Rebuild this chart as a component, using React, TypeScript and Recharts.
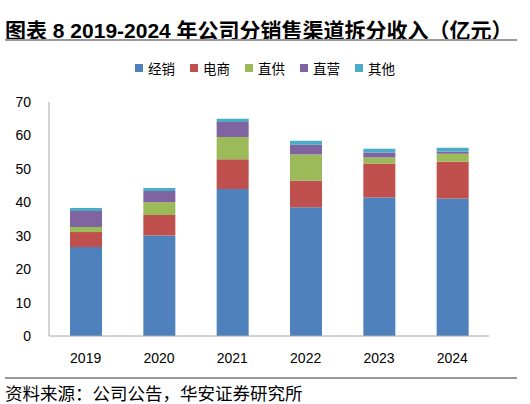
import { BarChart, Bar, XAxis, YAxis, Legend } from 'recharts'

const YEARS = ['2019', '2020', '2021', '2022', '2023', '2024']
const DISTRIBUTION = [26.6, 30.1, 44.0, 38.5, 41.4, 41.1]
const ECOMMERCE = [4.5, 6.1, 8.9, 8.0, 10.2, 11.0]
const DIRECT_SUPPLY = [1.5, 3.8, 6.6, 7.8, 1.8, 2.4]
const DIRECT_STORES = [4.8, 3.4, 4.5, 2.9, 1.5, 0.7]
const OTHERS = [0.9, 0.9, 1.0, 1.2, 1.1, 1.1]
const Y_TICKS = [0, 10, 20, 30, 40, 50, 60, 70]

const SERIES = [
  { key: 'dist', name: '经销', color: '#4F81BD', values: DISTRIBUTION },
  { key: 'ecom', name: '电商', color: '#C0504D', values: ECOMMERCE },
  { key: 'supply', name: '直供', color: '#9BBB59', values: DIRECT_SUPPLY },
  { key: 'stores', name: '直营', color: '#8064A2', values: DIRECT_STORES },
  { key: 'other', name: '其他', color: '#4BACC6', values: OTHERS },
]

const data = YEARS.map((year, i) => {
  const row: Record<string, string | number> = { year }
  SERIES.forEach((s) => {
    row[s.key] = s.values[i]
  })
  return row
})

const CJK = '"Liberation Sans", "Noto Sans CJK SC", sans-serif'

function LegendContent() {
  return (
    <div style={{ display: 'flex', justifyContent: 'center', gap: 15, fontFamily: CJK, fontSize: 13.5, color: '#000' }}>
      {SERIES.map((s) => (
        <div key={s.key} style={{ display: 'flex', alignItems: 'center' }}>
          <span style={{ width: 8, height: 8, background: s.color, display: 'inline-block', marginRight: 5 }} />
          <span>{s.name}</span>
        </div>
      ))}
    </div>
  )
}

export default function App() {
  return (
    <div style={{ position: 'absolute', left: 0, top: 0, width: 530, height: 404, background: '#fff', fontFamily: CJK }}>
      <div style={{ position: 'absolute', left: 5, top: 14, fontSize: 21, fontWeight: 'bold', color: '#000', whiteSpace: 'nowrap' }}>
        图表 8 2019-2024 年公司分销售渠道拆分收入（亿元）
      </div>
      <div style={{ position: 'absolute', left: 5, top: 39, width: 512, height: 2, background: '#9a9a9a' }} />
      <BarChart
        width={530}
        height={404}
        data={data}
        margin={{ top: 102, right: 41, left: 0, bottom: 38 }}
        barSize={32}
      >
        <XAxis
          dataKey="year"
          height={30}
          axisLine={{ stroke: '#A6A6A6' }}
          tickLine={false}
          tick={{ fill: '#000', fontSize: 14, fontFamily: '"Liberation Sans", Arial, sans-serif' }}
          tickMargin={11}
        />
        <YAxis
          width={49}
          domain={[0, 70]}
          ticks={Y_TICKS}
          axisLine={{ stroke: '#A6A6A6' }}
          tickLine={false}
          tick={{ fill: '#000', fontSize: 14, fontFamily: '"Liberation Sans", Arial, sans-serif' }}
          tickMargin={12}
        />
        <Legend verticalAlign="middle" align="center" wrapperStyle={{ top: 58, left: 0, width: 530 }} content={LegendContent} />
        {SERIES.map((s) => (
          <Bar key={s.key} dataKey={s.key} name={s.name} stackId="a" fill={s.color} isAnimationActive={false} />
        ))}
      </BarChart>
      <div style={{ position: 'absolute', left: 5, top: 377, width: 512, height: 2, background: '#9a9a9a' }} />
      <div style={{ position: 'absolute', left: 5, top: 380, fontSize: 17.5, color: '#000', whiteSpace: 'nowrap' }}>
        资料来源：公司公告，华安证券研究所
      </div>
    </div>
  )
}
